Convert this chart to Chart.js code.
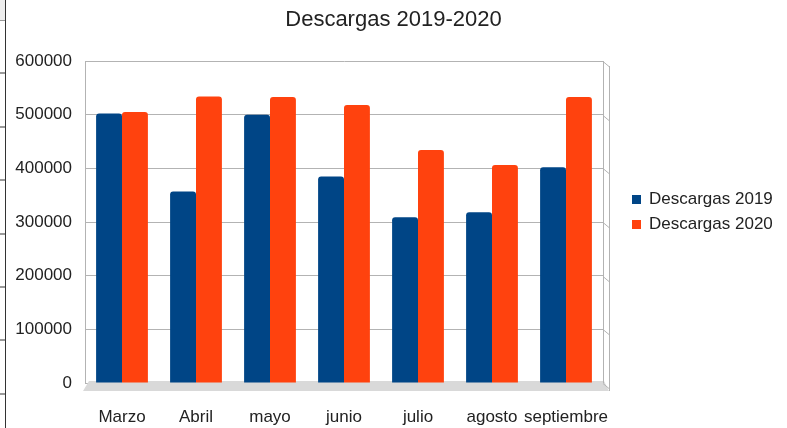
<!DOCTYPE html>
<html>
<head>
<meta charset="utf-8">
<script src="https://cdn.jsdelivr.net/npm/chart.js@4"></script>
<style>
  body { margin: 0; background: #fff; }
  #wrap { position: relative; width: 787px; height: 428px; }
  #ruler {
    position: absolute; left: 0; top: 0; width: 5px; height: 428px;
    border-right: 1px solid #333;
    background:
      linear-gradient(#eee, #eee) 0 0 / 5px 20px no-repeat,
      repeating-linear-gradient(to bottom, #333 0 1px, transparent 1px 53.4px) 0 19.5px;
  }
  #legend {
    position: absolute; left: 632px; top: 189px;
    font: 17px "Liberation Sans", Arial, sans-serif; color: #222;
  }
  #legend div { height: 25px; line-height: 20px; white-space: nowrap; }
  #legend span { display: inline-block; width: 9px; height: 9px; margin-right: 8px; vertical-align: 0px; }
</style>
</head>
<body>
<div id="wrap">
  <canvas id="chart" width="787" height="428"></canvas>
  <div id="ruler"></div>
  <div id="legend"></div>
</div>
<script>
// Months and downloads per year
const months = ["Marzo", "Abril", "mayo", "junio", "julio", "agosto", "septiembre"];
const descargas2019 = [502000, 357000, 500000, 385000, 309000, 318000, 402000];
const descargas2020 = [505000, 534000, 533000, 518000, 434000, 406000, 533000];
const seriesNames = ["Descargas 2019", "Descargas 2020"];
const seriesColors = ["#004586", "#ff420e"];

const gridColor = "#b3b3b3";
const font = "Liberation Sans";

// floor and right wall (3D look of the original)
const wallPlugin = {
  id: "walls",
  beforeDatasetsDraw(chart) {
    const ctx = chart.ctx;
    const a = chart.chartArea;
    const yScale = chart.scales.y;
    ctx.save();
    ctx.fillStyle = "#d9d9d9";
    ctx.beginPath();
    ctx.moveTo(a.left + 4, a.bottom - 2);
    ctx.lineTo(a.right + 1, a.bottom - 2);
    ctx.lineTo(a.right + 6, a.bottom + 8);
    ctx.lineTo(a.left - 2, a.bottom + 8);
    ctx.closePath();
    ctx.fill();
    ctx.strokeStyle = gridColor;
    ctx.lineWidth = 1;
    yScale.ticks.forEach((t) => {
      const y = Math.round(yScale.getPixelForValue(t.value)) + 0.5;
      ctx.beginPath();
      ctx.moveTo(a.right, y);
      ctx.lineTo(a.right + 6, y + 5);
      ctx.stroke();
    });
    ctx.beginPath();
    ctx.moveTo(a.right + 0.5, a.top);
    ctx.lineTo(a.right + 0.5, a.bottom);
    ctx.moveTo(a.right + 6.5, a.top + 5);
    ctx.lineTo(a.right + 6.5, a.bottom + 8);
    ctx.stroke();
    ctx.restore();
  }
};

const ctx = document.getElementById("chart").getContext("2d");
const chart = new Chart(ctx, {
  type: "bar",
  data: {
    labels: months,
    datasets: [
      {
        label: seriesNames[0],
        data: descargas2019,
        backgroundColor: seriesColors[0],
        borderRadius: { topLeft: 3, topRight: 3 },
        borderSkipped: "bottom",
        barPercentage: 1,
        categoryPercentage: 0.7,
      },
      {
        label: seriesNames[1],
        data: descargas2020,
        backgroundColor: seriesColors[1],
        borderRadius: { topLeft: 3, topRight: 3 },
        borderSkipped: "bottom",
        barPercentage: 1,
        categoryPercentage: 0.7,
      },
    ],
  },
  options: {
    responsive: false,
    animation: false,
    layout: { padding: { left: 12, right: 12, top: 0, bottom: 0 } },
    plugins: {
      legend: { display: false },
      tooltip: { enabled: false },
      title: {
        display: true,
        text: "Descargas 2019-2020",
        color: "#222",
        font: { family: font, size: 22, weight: "normal" },
        padding: { top: 7, bottom: 27.6 },
      },
    },
    scales: {
      x: {
        grid: { display: false, drawTicks: false },
        border: { display: false },
        ticks: {
          color: "#222",
          font: { family: font, size: 17 },
          padding: 24,
          maxRotation: 0,
          autoSkip: false,
        },
        afterFit: (scale) => { scale.height = 45; },
      },
      y: {
        min: 0,
        max: 600000,
        grid: { color: gridColor, drawTicks: false },
        border: { display: true, color: gridColor },
        ticks: {
          stepSize: 100000,
          color: "#222",
          font: { family: font, size: 17 },
          padding: 13,
          callback: (v) => String(v),
        },
        afterFit: (scale) => { scale.width = 73; },
      },
      // empty axis keeping room for the legend on the right
      legendSpace: {
        position: "right",
        grid: { display: false, drawTicks: false },
        border: { display: false },
        ticks: { display: false },
        afterFit: (scale) => { scale.width = 172; },
      },
    },
  },
  plugins: [wallPlugin],
});

// legend built from the datasets
const legend = document.getElementById("legend");
chart.data.datasets.forEach((ds) => {
  const row = document.createElement("div");
  const box = document.createElement("span");
  box.style.background = ds.backgroundColor;
  row.appendChild(box);
  row.appendChild(document.createTextNode(ds.label));
  legend.appendChild(row);
});
</script>
</body>
</html>
